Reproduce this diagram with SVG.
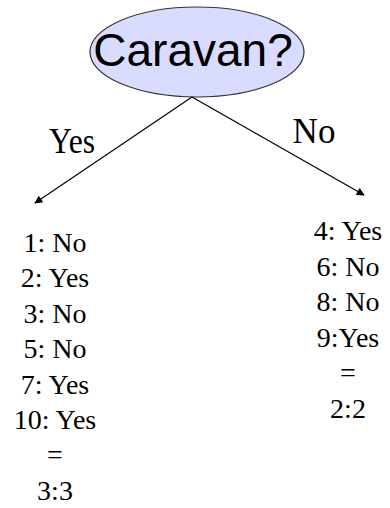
<svg xmlns="http://www.w3.org/2000/svg" width="390" height="508" viewBox="0 0 390 508">
<style>
text{font-family:"Liberation Serif","Times New Roman",serif;fill:#000;text-anchor:middle}
.edge{stroke:#000;stroke-width:1.2;fill:none}
</style>
<defs>
<marker id="ah" viewBox="0 0 10 10" refX="9" refY="5" markerWidth="10" markerHeight="8" markerUnits="userSpaceOnUse" orient="auto">
<path d="M0,0 L10,5 L0,10 Z" fill="#000"/>
</marker>
</defs>
<rect width="390" height="508" fill="#fff"/>
<g id="root">
<ellipse cx="197" cy="52" rx="107" ry="45" fill="#dadcff" stroke="#333" stroke-width="1.2"/>
<text x="193" y="66" style="font-family:'Liberation Sans',Arial,sans-serif" font-size="46">Caravan?</text>
</g>
<g id="connectors">
<line class="edge" x1="192" y1="97" x2="35" y2="203" marker-end="url(#ah)"/>
<line class="edge" x1="192" y1="97" x2="364" y2="195" marker-end="url(#ah)"/>
<text x="72" y="153" font-size="36" textLength="46" lengthAdjust="spacingAndGlyphs">Yes</text>
<text x="314" y="143" font-size="35">No</text>
</g>
<g id="yes-leaf" font-size="28">
<text x="55" y="252">1: No</text>
<text x="55" y="287.4">2: Yes</text>
<text x="55" y="322.8">3: No</text>
<text x="55" y="358.2">5: No</text>
<text x="55" y="393.6">7: Yes</text>
<text x="55" y="429">10: Yes</text>
<text x="55" y="464.4">=</text>
<text x="55" y="500">3:3</text>
</g>
<g id="no-leaf" font-size="28">
<text x="348" y="240">4: Yes</text>
<text x="348" y="275.5">6: No</text>
<text x="348" y="311">8: No</text>
<text x="348" y="346.5">9:Yes</text>
<text x="348" y="382">=</text>
<text x="348" y="417.5">2:2</text>
</g>
</svg>
